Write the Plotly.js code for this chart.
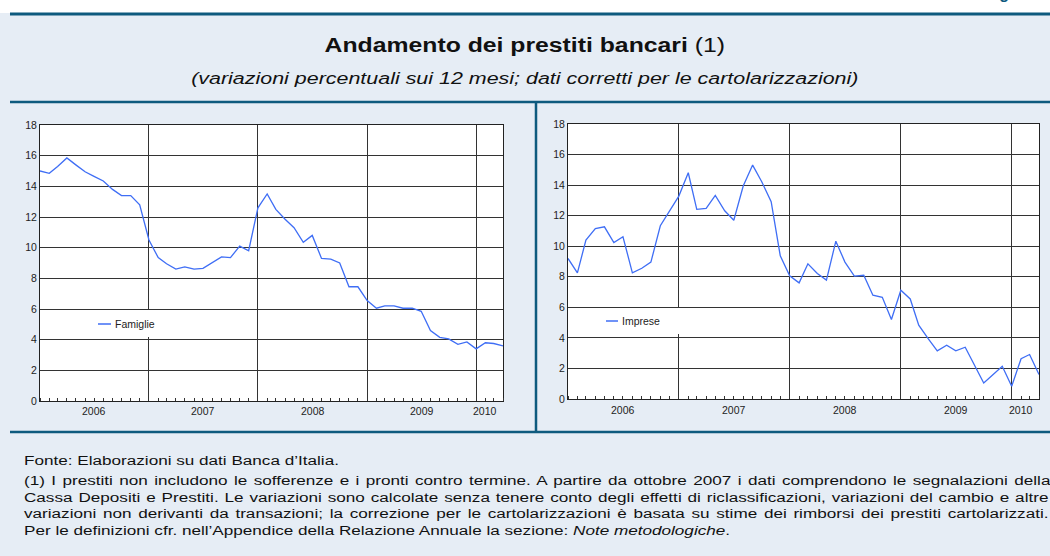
<!DOCTYPE html>
<html>
<head>
<meta charset="utf-8">
<script src="https://cdn.plot.ly/plotly-3.0.1.min.js"></script>
<style>
html,body{margin:0;padding:0;background:#ffffff;overflow:hidden;}
#chart{width:1050px;height:556px;}
</style>
</head>
<body>
<div id="chart"></div>
<script>
// ---- DATA ----
const months = [
 '2006-01','2006-02','2006-03','2006-04','2006-05','2006-06','2006-07','2006-08','2006-09','2006-10','2006-11','2006-12',
 '2007-01','2007-02','2007-03','2007-04','2007-05','2007-06','2007-07','2007-08','2007-09','2007-10','2007-11','2007-12',
 '2008-01','2008-02','2008-03','2008-04','2008-05','2008-06','2008-07','2008-08','2008-09','2008-10','2008-11','2008-12',
 '2009-01','2009-02','2009-03','2009-04','2009-05','2009-06','2009-07','2009-08','2009-09','2009-10','2009-11','2009-12',
 '2010-01','2010-02','2010-03','2010-04'
];
const famiglie = [
 15.0,14.85,15.3,15.85,15.4,14.95,14.65,14.35,13.8,13.4,13.4,12.8,
 10.5,9.35,8.95,8.6,8.75,8.6,8.65,9.05,9.4,9.35,10.1,9.8,
 12.6,13.5,12.5,11.85,11.3,10.35,10.8,9.3,9.25,9.0,7.45,7.45,
 6.55,6.05,6.2,6.2,6.05,6.05,5.85,4.6,4.15,4.05,3.7,3.85,
 3.4,3.8,3.75,3.6
];
const imprese = [
 9.2,8.26,10.4,11.16,11.27,10.24,10.62,8.26,8.56,8.96,11.34,12.3,
 13.28,14.81,12.41,12.47,13.32,12.32,11.7,13.94,15.31,14.22,12.91,9.37,
 8.06,7.6,8.85,8.21,7.78,10.33,8.96,8.04,8.1,6.79,6.66,5.2,
 7.12,6.55,4.83,3.95,3.15,3.52,3.15,3.39,2.21,1.05,1.6,2.14,
 0.83,2.64,2.91,1.6
];
const seriesNames = ['Famiglie','Imprese'];
const yTicks = [0,2,4,6,8,10,12,14,16,18];
const yearGrid = ['2006-01-01','2007-01-01','2008-01-01','2009-01-01','2010-01-01'];
const yearLabelPos = ['2006-07-02','2007-07-02','2008-07-02','2009-07-02','2010-02-01'];
const yearLabels = ['2006','2007','2008','2009','2010'];

const titleMain = 'Andamento dei prestiti bancari';
const titleNote = ' (1)';
const subtitle = '(variazioni percentuali sui 12 mesi; dati corretti per le cartolarizzazioni)';
const footer = [
 'Fonte: Elaborazioni su dati Banca d\u2019Italia.',
 '(1) I prestiti non includono le sofferenze e i pronti contro termine. A partire da ottobre 2007 i dati comprendono le segnalazioni della',
 'Cassa Depositi e Prestiti. Le variazioni sono calcolate senza tenere conto degli effetti di riclassificazioni, variazioni del cambio e altre',
 'variazioni non derivanti da transazioni; la correzione per le cartolarizzazioni \u00e8 basata su stime dei rimborsi dei prestiti cartolarizzati.',
 'Per le definizioni cfr. nell\u2019Appendice della Relazione Annuale la sezione: <i>Note metodologiche</i>.'
];

// ---- LAYOUT HELPERS ----
const W = 1050, H = 556;
const px = x => x / W;
const py = y => 1 - y / H;
const FONT = 'Arial, "Liberation Sans", Helvetica, sans-serif';
const LINE = '#3f6ef5';
const DARK = '#0e5a7e';
const BG = '#e6edf5';
const GRID = '#333333';
const AXFONT = {family: FONT, size: 10.5, color: '#222'};

function xAxis(dom, anchor) {
  return {
    domain: dom, anchor: anchor, type: 'date',
    range: [months[0] + '-01', months[months.length - 1] + '-01'],
    tickvals: yearGrid, showticklabels: false,
    showgrid: true, gridcolor: GRID, gridwidth: 1,
    ticks: '', showline: true, linecolor: '#222', linewidth: 1, mirror: true,
    zeroline: false, fixedrange: true,
    minor: {dtick: 'M1', tick0: months[0] + '-01', ticks: 'inside', ticklen: 3, tickcolor: '#333', tickwidth: 1, showgrid: false}
  };
}
function yAxis(dom, anchor) {
  return {
    domain: dom, anchor: anchor, range: [0, 18], tickvals: yTicks,
    showgrid: true, gridcolor: GRID, gridwidth: 1,
    ticks: '', showline: true, linecolor: '#222', linewidth: 1, mirror: true,
    zeroline: false, fixedrange: true,
    tickfont: AXFONT
  };
}

const traces = [
  {x: months, y: famiglie, name: seriesNames[0], type: 'scatter', mode: 'lines',
   line: {color: LINE, width: 1.3}, xaxis: 'x', yaxis: 'y', showlegend: false, hoverinfo: 'x+y'},
  {x: months, y: imprese, name: seriesNames[1], type: 'scatter', mode: 'lines',
   line: {color: LINE, width: 1.3}, xaxis: 'x2', yaxis: 'y2', showlegend: false, hoverinfo: 'x+y'}
];

const shapes = [
  {type: 'rect', xref: 'paper', yref: 'paper', x0: 0, x1: 1, y0: py(13), y1: 1.01, fillcolor: '#ffffff', line: {width: 0}, layer: 'below'},
  {type: 'line', xref: 'paper', yref: 'paper', x0: px(10), x1: 1, y0: py(14), y1: py(14), line: {color: DARK, width: 3}},
  {type: 'line', xref: 'paper', yref: 'paper', x0: px(10), x1: 1, y0: py(102), y1: py(102), line: {color: DARK, width: 2.5}},
  {type: 'line', xref: 'paper', yref: 'paper', x0: px(536), x1: px(536), y0: py(102), y1: py(432), line: {color: DARK, width: 2.5}},
  {type: 'line', xref: 'paper', yref: 'paper', x0: px(10), x1: 1, y0: py(432), y1: py(432), line: {color: DARK, width: 2.5}},
  {type: 'rect', xref: 'paper', yref: 'paper', x0: px(92), x1: px(157), y0: py(337), y1: py(310), fillcolor: '#ffffff', line: {width: 0}, layer: 'above'},
  {type: 'line', xref: 'paper', yref: 'paper', x0: px(98), x1: px(111), y0: py(324), y1: py(324), line: {color: LINE, width: 1.5}, layer: 'above'},
  {type: 'rect', xref: 'paper', yref: 'paper', x0: px(598), x1: px(683), y0: py(334), y1: py(308), fillcolor: '#ffffff', line: {width: 0}, layer: 'above'},
  {type: 'line', xref: 'paper', yref: 'paper', x0: px(606), x1: px(618), y0: py(321), y1: py(321), line: {color: LINE, width: 1.5}, layer: 'above'}
];

const annotations = [];
const stretch = {};
function addAnn(a, s, justifyTo) {
  annotations.push(a);
  if (s) stretch[annotations.length - 1] = {s: s, j: justifyTo || null, center: a.xanchor === 'center'};
}
addAnn({xref: 'paper', yref: 'paper', x: px(983), y: py(-7), xanchor: 'left', yanchor: 'middle', showarrow: false,
   text: '<b>Figura</b>', font: {family: FONT, size: 16, color: DARK}});
addAnn({xref: 'paper', yref: 'paper', x: 0.5, y: py(45), xanchor: 'center', yanchor: 'middle', showarrow: false,
   text: '<b>' + titleMain + '</b>' + titleNote, font: {family: FONT, size: 21, color: '#111'}}, 1.18);
addAnn({xref: 'paper', yref: 'paper', x: 0.5, y: py(78), xanchor: 'center', yanchor: 'middle', showarrow: false,
   text: '<i>' + subtitle + '</i>', font: {family: FONT, size: 16.5, color: '#111'}}, 1.3);
addAnn({xref: 'paper', yref: 'paper', x: px(113), y: py(324), xanchor: 'left', yanchor: 'middle', showarrow: false,
   text: seriesNames[0], font: AXFONT});
addAnn({xref: 'paper', yref: 'paper', x: px(620), y: py(321), xanchor: 'left', yanchor: 'middle', showarrow: false,
   text: seriesNames[1], font: AXFONT});
// year labels on both time axes (positioned through the x scales)
yearLabels.forEach((lab, i) => {
  addAnn({xref: 'x', yref: 'paper', x: yearLabelPos[i], y: py(411), xanchor: 'center', yanchor: 'middle',
    showarrow: false, text: lab, font: AXFONT});
  addAnn({xref: 'x2', yref: 'paper', x: yearLabelPos[i], y: py(409.5), xanchor: 'center', yanchor: 'middle',
    showarrow: false, text: lab, font: AXFONT});
});
const footerY = [461, 481, 497.5, 514, 530.5];
const footerJustify = [null, 1051, 1049, 1049, null];
footer.forEach((t, i) => {
  addAnn({xref: 'paper', yref: 'paper', x: px(22), y: py(footerY[i]), xanchor: 'left', yanchor: 'middle',
    showarrow: false, align: 'left', text: t, font: {family: FONT, size: 12.5, color: '#111'}}, 1.37, footerJustify[i]);
});

const layout = {
  width: W, height: H,
  margin: {l: 0, r: 0, t: 0, b: 0},
  paper_bgcolor: BG, plot_bgcolor: '#ffffff',
  showlegend: false,
  font: {family: FONT, color: '#222'},
  xaxis: xAxis([px(40), px(503)], 'y'),
  yaxis: yAxis([py(401), py(125)], 'x'),
  xaxis2: xAxis([px(568), px(1039)], 'y2'),
  yaxis2: yAxis([py(399), py(124)], 'x2'),
  shapes: shapes,
  annotations: annotations
};

Plotly.newPlot('chart', traces, layout, {displayModeBar: false, staticPlot: true}).then(gd => {
  gd.querySelectorAll('g.annotation').forEach(g => {
    const idx = +g.getAttribute('data-index');
    const st = stretch[idx];
    if (!st) return;
    const txt = g.querySelector('text.annotation-text');
    if (!txt) return;
    let bb = txt.getBBox();
    if (st.j) {
      const nSp = (txt.textContent.match(/ /g) || []).length;
      const absLeft = txt.getBoundingClientRect().left;
      const needW = (st.j - absLeft) / st.s;
      if (nSp > 0 && needW > bb.width) {
        txt.style.wordSpacing = ((needW - bb.width) / nSp) + 'px';
        bb = txt.getBBox();
      }
    }
    const ox = st.center ? bb.x + bb.width / 2 : bb.x;
    txt.setAttribute('transform', 'translate(' + (ox * (1 - st.s)) + ',0) scale(' + st.s + ',1)');
  });
});
</script>
</body>
</html>
